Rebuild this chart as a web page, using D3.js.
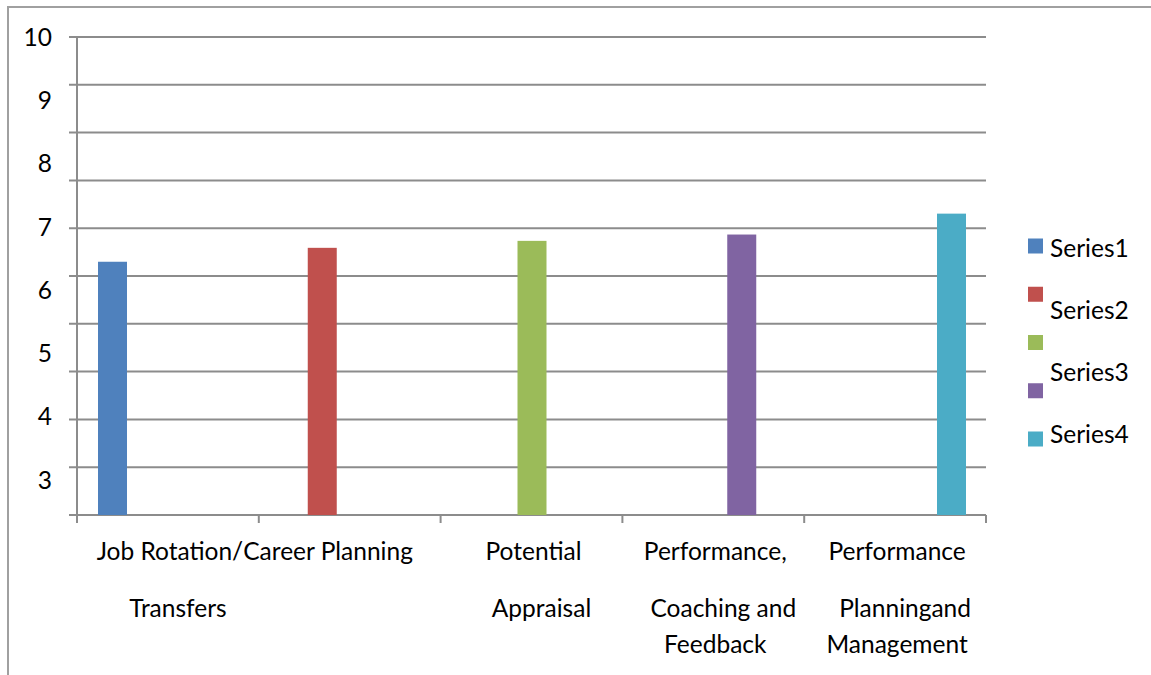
<!DOCTYPE html>
<html>
<head>
<meta charset="utf-8">
<script src="https://cdn.jsdelivr.net/npm/d3@7"></script>
<style>
  html, body { margin: 0; padding: 0; background: #fff; overflow: hidden; }
  svg { display: block; font-family: Lato, "Open Sans", sans-serif; }
</style>
</head>
<body>
<svg id="chart" width="1151" height="675"></svg>
<script>
// ---- data ----
const categoryLines = [
  ["Job Rotation/", "Transfers"],
  ["Career Planning"],
  ["Potential", "Appraisal"],
  ["Performance,", "Coaching and", "Feedback"],
  ["Performance", "Planningand", "Management"]
];
const seriesKeys = ["S1", "S2", "S3", "S4", "S5"];
const values = [6.45, 6.67, 6.78, 6.88, 7.21];
const seriesColors = ["#4F81BD", "#C0504D", "#9BBB59", "#8064A2", "#4BACC6"];
const legendLabels = ["Series1", "Series2", "Series3", "Series4"];
const yTickLabels = [10, 9, 8, 7, 6, 5, 4, 3];
const gridCount = 10;

(function () {
// ---- layout ----
const svg = d3.select("#chart");
const pLeft = 77, pRight = 986, pTop = 37, pBottom = 515;
const gridColor = "#8c8c8c";
const fontSize = 24.5;

// frame
svg.append("rect")
  .attr("x", 8).attr("y", 7).attr("width", 1200).attr("height", 700)
  .attr("fill", "none").attr("stroke", "#a0a0a0").attr("stroke-width", 2);

// scales
const y = d3.scaleLinear().domain([2.45, 10]).range([pBottom, pTop]);
const yGrid = d3.scaleLinear().domain([0, gridCount]).range([pBottom, pTop]);
const xCat = d3.scaleBand().domain(d3.range(categoryLines.length)).range([pLeft, pRight]);
const xBar = d3.scalePoint().domain(seriesKeys).range([112.5, 951.5]);
const barWidth = 29;

// gridlines
svg.append("g")
  .selectAll("line")
  .data(d3.range(gridCount + 1))
  .join("line")
  .attr("x1", pLeft - 8).attr("x2", pRight)
  .attr("y1", d => yGrid(d)).attr("y2", d => yGrid(d))
  .attr("stroke", gridColor).attr("stroke-width", 2);

// y axis line
svg.append("line")
  .attr("x1", pLeft).attr("x2", pLeft)
  .attr("y1", pTop).attr("y2", pBottom)
  .attr("stroke", gridColor).attr("stroke-width", 2);

// x axis ticks
svg.append("g")
  .selectAll("line")
  .data(d3.range(categoryLines.length + 1))
  .join("line")
  .attr("x1", d => pLeft + d * xCat.step()).attr("x2", d => pLeft + d * xCat.step())
  .attr("y1", pBottom).attr("y2", pBottom + 8)
  .attr("stroke", gridColor).attr("stroke-width", 2);

// bars
svg.append("g")
  .selectAll("rect")
  .data(values)
  .join("rect")
  .attr("x", (d, i) => xBar(seriesKeys[i]) - barWidth / 2)
  .attr("width", barWidth)
  .attr("y", d => y(d))
  .attr("height", d => pBottom - y(d))
  .attr("fill", (d, i) => seriesColors[i]);

// y labels
svg.append("g")
  .selectAll("text")
  .data(yTickLabels)
  .join("text")
  .attr("x", 52)
  .attr("y", d => y(d))
  .attr("dy", "0.35em")
  .attr("text-anchor", "end")
  .attr("font-size", fontSize)
  .attr("fill", "#000")
  .text(d => d);

// category labels
const lineBase = [560, 617, 653];
const lineShift = [2, 10, 2];
const catG = svg.append("g").attr("font-size", fontSize).attr("fill", "#000");
let prevEnd = null;
categoryLines.forEach((lines, ci) => {
  const cx = xCat(ci) + xCat.bandwidth() / 2;
  if (lines.length === 1 && prevEnd !== null) {
    catG.append("text").attr("x", prevEnd).attr("y", lineBase[0])
      .attr("text-anchor", "start").text(lines[0]);
    prevEnd = null;
    return;
  }
  lines.forEach((t, li) => {
    const node = catG.append("text")
      .attr("x", cx + lineShift[li]).attr("y", lineBase[li])
      .attr("text-anchor", "middle").text(t);
    if (li === 0) {
      const w = node.node().getComputedTextLength();
      prevEnd = cx + lineShift[0] + w / 2;
    }
  });
});

// legend
const legG = svg.append("g");
const sqY = d3.scaleLinear().domain([0, seriesColors.length - 1]).range([246, 439]);
legG.selectAll("rect")
  .data(seriesColors)
  .join("rect")
  .attr("x", 1028).attr("y", (d, i) => sqY(i) - 7.5)
  .attr("width", 15).attr("height", 15)
  .attr("fill", d => d);
const txtY = d3.scaleLinear().domain([0, legendLabels.length - 1]).range([257, 443]);
legG.selectAll("text")
  .data(legendLabels)
  .join("text")
  .attr("x", 1050).attr("y", (d, i) => txtY(i))
  .attr("font-size", fontSize)
  .attr("fill", "#000")
  .text(d => d);
})();
</script>
</body>
</html>
